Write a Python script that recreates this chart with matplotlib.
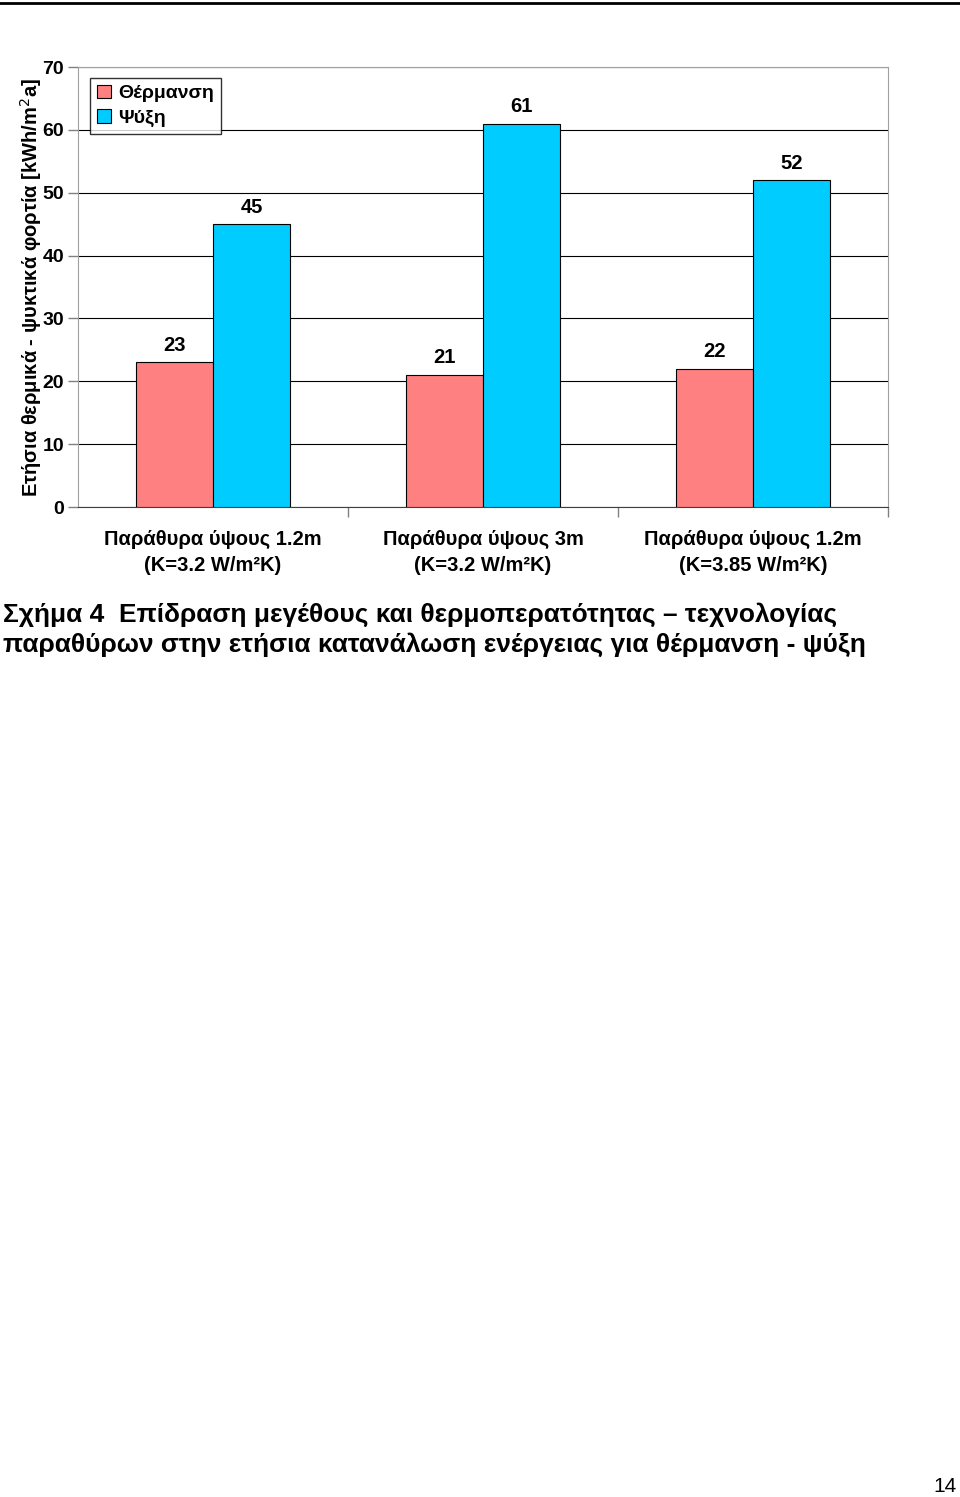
import matplotlib
matplotlib.use("Agg")
import matplotlib.pyplot as plt
import numpy as np
from matplotlib import font_manager

# Data
categories = ["Παράθυρα ύψους 1.2m\n(K=3.2 W/m²K)",
              "Παράθυρα ύψους 3m\n(K=3.2 W/m²K)",
              "Παράθυρα ύψους 1.2m\n(K=3.85 W/m²K)"]
heating = [23, 21, 22]
cooling = [45, 61, 52]
series_names = ["Θέρμανση", "Ψύξη"]
y_ticks = [0, 10, 20, 30, 40, 50, 60, 70]

caption = ("Σχήμα 4  Επίδραση μεγέθους και θερμοπερατότητας – τεχνολογίας\n"
           "παραθύρων στην ετήσια κατανάλωση ενέργειας για θέρμανση - ψύξη")

names = {f.name for f in font_manager.fontManager.ttflist}
narrow = "Liberation Sans Narrow" if "Liberation Sans Narrow" in names else "Liberation Sans"

plt.rcParams['font.family'] = ['Liberation Sans', 'DejaVu Sans']

fig = plt.figure(figsize=(9.6, 14.97), dpi=100)
W, H = 960, 1497

# axes placed in pixel coords: left 78, right 888, top 67, bottom 507
ax = fig.add_axes([78 / W, 1 - 507 / H, (888 - 78) / W, (507 - 67) / H])

x = np.arange(len(categories))
w = 0.285
b1 = ax.bar(x - w / 2, heating, w, color='#FF8080', edgecolor='black', linewidth=0.8,
            label=series_names[0], zorder=3)
b2 = ax.bar(x + w / 2, cooling, w, color='#00CCFF', edgecolor='black', linewidth=0.8,
            label=series_names[1], zorder=3)

for bars in (b1, b2):
    for r in bars:
        ax.text(r.get_x() + r.get_width() / 2, r.get_height() + 1.2, f"{int(r.get_height())}",
                ha='center', va='bottom', fontsize=14.5, fontweight='bold')

ax.set_xlim(-0.5, 2.5)
ax.set_ylim(0, 70)
ax.set_yticks(y_ticks)
ax.set_yticklabels([str(t) for t in y_ticks], fontsize=14, fontweight='bold')
ax.yaxis.grid(True, color='black', linewidth=0.8, zorder=0)
ax.set_axisbelow(True)

# category separators as ticks
ax.set_xticks([0.5, 1.5, 2.5])
ax.set_xticklabels([])
ax.tick_params(axis='x', length=7, color='#808080', width=1)
ax.tick_params(axis='y', length=7, color='#808080', width=1, pad=3)
for i, c in enumerate(categories):
    ax.text(i, -3.7, c, ha='center', va='top', fontsize=14.5, fontweight='bold',
            linespacing=1.45)

for s in ['top', 'right', 'left']:
    ax.spines[s].set_color('#A0A0A0')
ax.spines['bottom'].set_color('#404040')

ax.set_ylabel("Ετήσια θερμικά - ψυκτικά φορτία [kWh/m$^2$a]", fontsize=14.5,
              fontweight='bold', labelpad=-1)

leg = ax.legend(loc='upper left', bbox_to_anchor=(0.015, 0.975),
                prop={'weight': 'bold', 'size': 14}, frameon=True, fancybox=False,
                handlelength=0.7, handleheight=0.7, handletextpad=0.4,
                borderpad=0.35, labelspacing=0.35, borderaxespad=0)
leg.get_frame().set_edgecolor('black')
leg.get_frame().set_linewidth(1)

# page top rule
fig.add_artist(plt.Line2D([0, 1], [1 - 3 / H, 1 - 3 / H], color='black', linewidth=2))

fig.text(3 / W, 1 - 602 / H, caption, ha='left', va='top', fontsize=19,
         family=[narrow, 'DejaVu Sans'], fontweight='bold', linespacing=1.3)

fig.text(957 / W, 1 - 1496 / H, "14", ha='right', va='bottom', fontsize=15)

fig.savefig("out.png", dpi=100)
